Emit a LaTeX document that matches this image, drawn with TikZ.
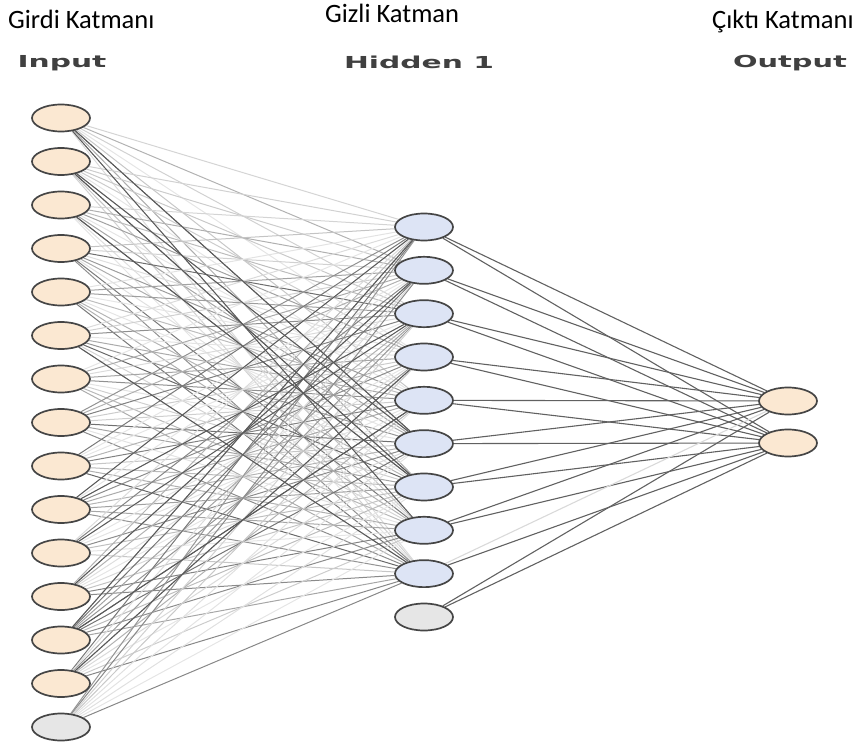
\documentclass[tikz,border=0pt]{standalone}
\usepackage{fontspec}
\setmainfont{Carlito}
\newfontfamily\lblfont{DejaVu Sans}
\usetikzlibrary{shapes.geometric}
\pgfdeclarelayer{bg}
\pgfsetlayers{bg,main}
\definecolor{inorange}{HTML}{FBE8D2}
\definecolor{hidblue}{HTML}{DDE4F5}
\definecolor{biasgray}{HTML}{E6E6E6}
\definecolor{rimgray}{HTML}{454545}
\begin{document}
\begin{tikzpicture}[x=1pt,y=-1pt,
  neuron/.style={ellipse, draw=rimgray, line width=1.7pt, minimum width=58pt, minimum height=27pt, inner sep=0pt},
  innode/.style={neuron, fill=inorange},
  hidnode/.style={neuron, fill=hidblue},
  biasnode/.style={neuron, fill=biasgray},
  title/.style={font=\fontsize{26.5}{30}\selectfont, anchor=base west, inner sep=0pt},
  layerlbl/.style={font=\lblfont\bfseries\fontsize{16.5}{20}\selectfont, text=black!75, anchor=base, inner sep=0pt},
  wire/.style={line width=1pt},
  outwire/.style={line width=1.1pt, draw=black!62}
]
\useasboundingbox (0,0) rectangle (860,744);
% titles
\node[title] (t1) at (8,28) {Girdi Katmanı};
\node[title] (t2) at (325,23) {Gizli Katman};
\node[title] (t3) at (712,28) {Çıktı Katmanı};
\node[layerlbl] (l1) at (62,67) {\scalebox{1.8}[1]{Input}};
\node[layerlbl] (l2) at (419,68) {\scalebox{1.8}[1]{Hidden 1}};
\node[layerlbl] (l3) at (790,67) {\scalebox{1.75}[1]{Output}};
% neurons
\foreach \i in {1,...,14} \node[innode] (i\i) at (61,{118+(\i-1)*43.5}) {};
\node[biasnode] (i15) at (61,727) {};
\foreach \j in {1,...,9} \node[hidnode] (h\j) at (424,{227+(\j-1)*43.33}) {};
\node[biasnode] (h10) at (424,617) {};
\node[innode] (o1) at (788,401) {};
\node[innode] (o2) at (788,443) {};
% connections
\begin{pgfonlayer}{bg}
\pgfmathsetseed{4242}
\foreach \i in {1,...,15} {
  \foreach \j in {1,...,9} {
    \pgfmathtruncatemacro\s{10+50*rnd^1.5}
    \draw[wire, draw=black!\s] (i\i) -- (h\j);
  }
}
\foreach \i/\j in {1/8, 2/6, 2/7, 3/7, 14/4, 12/2, 13/5, 10/1, 11/3, 6/9, 1/6, 13/1, 10/3}
  \draw[wire, draw=black!65] (i\i) -- (h\j);
\foreach \j in {1,...,10} {
  \draw[outwire] (h\j) -- (o2);
}
\foreach \j in {1,...,8,10} {
  \draw[outwire] (h\j) -- (o1);
}
\draw[outwire, draw=black!15] (h9) -- (o1);
\end{pgfonlayer}
\end{tikzpicture}
\end{document}
